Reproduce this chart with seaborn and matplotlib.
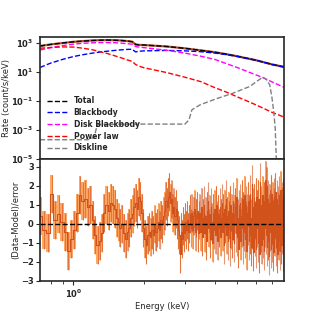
import numpy as np
import matplotlib
matplotlib.use("Agg")
import matplotlib.pyplot as plt
import seaborn as sns

# model curves (count/s/keV)
model_energy = [0.72, 0.8, 0.9, 1.0, 1.1, 1.2, 1.3, 1.4, 1.5, 1.6, 1.7, 1.78, 1.84,
                1.9, 2.0, 2.5, 3.0, 3.5, 4.0, 4.5, 5.0, 5.5, 6.0, 6.5, 7.0, 7.5, 7.9]
total_rate = [589, 759, 955, 1148, 1288, 1413, 1479, 1514, 1479, 1413, 1288, 1175, 759,
              708, 692, 550, 407, 295, 224, 162, 117, 85, 63, 45, 33, 26, 22]
observed_rate = [595, 765, 950, 1150, 1290, 1420, 1485, 1510, 1475, 1410, 1290, 1170, 762,
                 705, 690, 548, 405, 296, 223, 161, 118, 84, 63, 45, 33, 26, 22]
bbody_rate = [20, 40, 72, 112, 151, 191, 229, 263, 295, 324, 347, 355, 234,
              257, 275, 295, 275, 240, 195, 151, 112, 83, 62, 44, 32, 25, 21]
diskbb_rate = [316, 457, 631, 794, 912, 977, 1023, 1023, 1000, 933, 851, 794, 550,
               501, 457, 302, 191, 117, 72, 36, 19.5, 10.7, 6.2, 3.7, 2.1, 1.26, 0.87]
powerlaw_rate = [417, 468, 513, 501, 417, 331, 240, 178, 126, 91, 65, 52, 32,
                 25, 19, 8.9, 4.2, 2.1, 0.83, 0.40, 0.19, 0.10, 0.054, 0.030, 0.017, 0.011, 0.0079]

diskline_energy = [0.72, 1.155, 1.225, 1.262, 1.3, 2.0, 2.988, 3.107, 3.20, 3.46, 4.05,
                   4.78, 5.65, 6.11, 6.42, 6.67, 6.87, 7.01, 7.15, 7.25, 7.40]
diskline_rate = [2.2e-4, 2.2e-4, 3.2e-4, 2.2e-3, 2.5e-3, 2.6e-3, 2.6e-3, 5.0e-3, 0.025, 0.054, 0.14,
                 0.34, 1.0, 2.5, 4.3, 2.8, 1.26, 0.20, 0.016, 1.3e-3, 1e-7]

# residuals per channel, channels evenly spaced in energy
chan_lo, chan_hi = 0.72, 7.9
residuals = [
    0.4, -0.3, -0.5, 1.6, 0.2, 0.5, 0.1, -0.4, -1.4, -0.8,
    -0.3, 0.6, 1.5, 1.2, 1.3, 0.9, 1.0, 0.2, -0.6, -1.1,
    -0.9, -0.5, 0.6, 1.0, 0.7, 1.1, 1.0, 0.8, 0.3, 0.1,
    -0.2, 0.0, -0.5, -0.8, -0.4, -0.2, 0.3, 0.5, 0.9, 1.1,
    0.8, 1.4, 1.2, 0.6, -0.2, -0.8, -1.1, -0.6, -0.4, -0.7,
    -0.3, -0.6, 0.0, -0.4, -0.2, 0.1, -0.3, 0.2, 0.0, 0.4,
    0.7, 1.2, 0.9, 1.4, 1.7, 1.1, 1.3, 0.6, 0.9, 0.4,
    0.8, 0.2, -0.3, -0.6, -1.6, -0.4, -0.8, -0.1, -0.5, 0.1,
    -0.3, 0.2, -0.4, 0.0, 0.5, -0.2, 0.6, -0.3, 0.4, 0.8,
    -0.4, 0.3, 0.7, -0.5, 0.2,
    0.6, -0.4, 0.9, -0.7, 0.3, 1.0, -0.5, 0.4, -0.9, 0.7,
    1.2, -0.2, 0.5, -0.8, 0.9, 0.1, -1.0, 0.6, -0.3, 0.8,
    -0.6, 1.0, 0.2, -0.9, 0.5, -0.2, 0.9, -0.7, 0.3, 1.1,
    -0.4, 0.6, -1.1, 0.8, 0.0, 1.3, -0.6, 0.4, -0.9, 0.7,
    0.2, -1.2, 1.0, -0.3, 0.6, -0.8, 1.2, 0.1, -1.0, 0.5,
    0.9, -0.5, 1.4, -0.7, 0.3, -1.3, 0.8, 0.0, 1.1, -0.9,
    0.4, -0.2, 1.3, -1.1, 0.7, -0.4, 1.5, -0.8, 0.2, 1.0,
    -1.4, 0.6, -0.1, 1.2, -0.9, 0.5, 1.6, -0.6, 0.3, -1.2,
    2.1, -0.3, 0.9, -1.5, 0.4, 1.1, -0.7, 0.2, -1.3, 1.4,
    -0.2, 0.8, -1.0, 1.3, 0.0, -1.6, 0.7, 2.2, -0.5, 1.0,
    -1.1, 0.5, 1.5, -0.8, 0.3, -1.4, 1.2, -0.2, 0.9, 2.3,
    -0.6, 2.0, -1.2, 0.4, 1.3, -0.9, -1.7, 0.6, 1.1, -0.4,
    0.8, -1.3, 1.6, -0.1, -1.0, 1.2, 0.3, -1.5, 0.9, 1.4,
    -0.7, 0.2, 1.7, -1.2, 0.5, -0.3, 1.3, -1.6, 0.7, 1.0,
    -0.9, 1.5, -0.4, 0.6, -1.4, 1.8, 0.1, -1.1, 1.2, -0.6,
    0.9, -1.5, 1.4, -0.8, 0.5,
]

sns.set_style("ticks")
plt.rcParams["font.family"] = ["DejaVu Sans"]
fs = 6

fig = plt.figure(figsize=(3.16, 3.16), dpi=100)
ax_top = fig.add_axes([0.1266, 0.4959, 0.7721, 0.3861])
ax_res = fig.add_axes([0.1266, 0.1108, 0.7721, 0.3851], sharex=ax_top)

# upper panel: spectrum and model components
sns.lineplot(x=model_energy, y=observed_rate, ax=ax_top, color="#b5542a", lw=1.6)
sns.lineplot(x=model_energy, y=total_rate, ax=ax_top, color="black", lw=1, ls="--", label="Total")
sns.lineplot(x=model_energy, y=bbody_rate, ax=ax_top, color="blue", lw=1, ls="--", label="Blackbody")
sns.lineplot(x=model_energy, y=diskbb_rate, ax=ax_top, color="magenta", lw=1, ls="--", label="Disk Blackbody")
sns.lineplot(x=model_energy, y=powerlaw_rate, ax=ax_top, color="red", lw=1, ls="--", label="Power law")
sns.lineplot(x=diskline_energy, y=diskline_rate, ax=ax_top, color="grey", lw=1, ls="--", label="Diskline")

ax_top.set_xscale("log")
ax_top.set_yscale("log")
ax_top.set_ylim(1e-5, 2350)
ax_top.set_xlim(chan_lo, chan_hi)
ax_top.set_ylabel("Rate (count/s/keV)", fontsize=fs, labelpad=0.5)
ax_top.tick_params(labelbottom=False)
ax_top.legend(loc="lower left", frameon=False, prop={"size": 5.5, "weight": "bold"},
              handlelength=2.6, handletextpad=0.9, labelspacing=0.36,
              borderaxespad=0.5, bbox_to_anchor=(0.0, 0.0))

# lower panel: residuals with +-1 error bars
chan_energy = np.linspace(chan_lo, chan_hi, len(residuals))
res = np.array(residuals)
ax_res.fill_between(chan_energy, res - 1, res + 1, step="mid", color="#ff8c33", alpha=0.75, lw=0)
ax_res.vlines(chan_energy, res - 1, res + 1, color="#d2521c", alpha=0.6, lw=0.8)
ax_res.plot(chan_energy, res, drawstyle="steps-mid", color="#d2521c", lw=0.8)
ax_res.axhline(0, color="black", ls="--", lw=1)
ax_res.set_ylim(-3, 3.4)
ax_res.set_yticks([-3, -2, -1, 0, 1, 2, 3])
ax_res.set_ylabel("(Data-Model)/error", fontsize=fs, labelpad=0.5)
ax_res.set_xlabel("Energy (keV)", fontsize=fs, labelpad=2)

for ax in (ax_top, ax_res):
    for sp in ax.spines.values():
        sp.set_linewidth(1.2)
    ax.tick_params(labelsize=fs, width=0.8, length=3, pad=1.5)
    ax.tick_params(which="minor", width=0.6, length=2)
    for lab in ax.get_xticklabels() + ax.get_yticklabels():
        lab.set_fontweight("bold")

fig.savefig("out.png", dpi=100)
